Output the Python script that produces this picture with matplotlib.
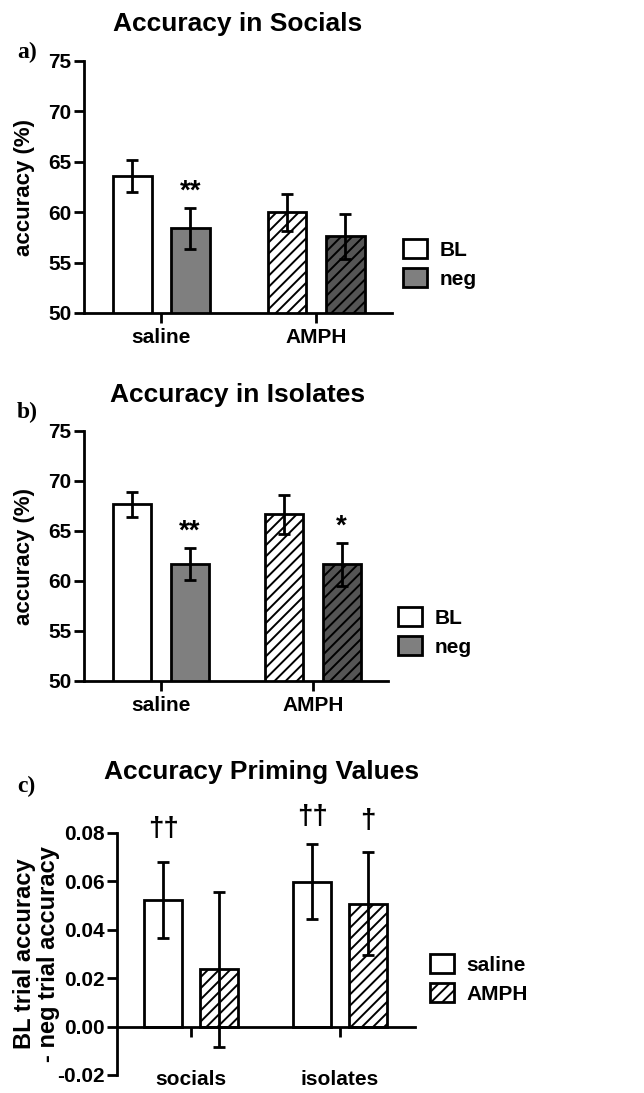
import matplotlib
matplotlib.use("Agg")
import matplotlib.pyplot as plt
from matplotlib.patches import Patch
from matplotlib import font_manager as fm

# ---------------- data ----------------
groups_ab = ["saline", "AMPH"]
soc_BL = [63.6, 60.0]
soc_BL_err = [1.6, 1.85]
soc_neg = [58.4, 57.6]
soc_neg_err = [2.05, 2.2]

iso_BL = [67.7, 66.7]
iso_BL_err = [1.25, 1.95]
iso_neg = [61.7, 61.7]
iso_neg_err = [1.6, 2.15]

groups_c = ["socials", "isolates"]
prime_saline = [0.0525, 0.0598]
prime_saline_err = [0.0157, 0.0155]
prime_amph = [0.0237, 0.0507]
prime_amph_err = [0.032, 0.0213]

yticks_ab = [50, 55, 60, 65, 70, 75]
yticks_c = [-0.02, 0.00, 0.02, 0.04, 0.06, 0.08]
ytick_labels_c = ["-0.02", "0.00", "0.02", "0.04", "0.06", "0.08"]

# ---------------- style ----------------
avail = {f.name for f in fm.fontManager.ttflist}
SANS = "Liberation Sans Narrow" if "Liberation Sans Narrow" in avail else "Liberation Sans"
SERIF = "Liberation Serif"
plt.rcParams["font.family"] = [SANS, "DejaVu Sans"]
plt.rcParams["hatch.linewidth"] = 1.4

W, H = 644, 1093
fig = plt.figure(figsize=(W / 100, H / 100), dpi=100)


def fr(x0, y0, x1, y1):
    return [x0 / W, 1 - y1 / H, (x1 - x0) / W, (y1 - y0) / H]


LW = 2.0
OFF = 0.188
BW = 0.25
TICKFS = 15
WHITE = "white"
GRAY = "#7f7f7f"
DGRAY = "#555555"
HATCH = "///"


def style_axes(ax):
    for s in ["top", "right"]:
        ax.spines[s].set_visible(False)
    for s in ["left", "bottom"]:
        ax.spines[s].set_linewidth(LW)
    ax.tick_params(axis="both", width=LW, length=7, labelsize=TICKFS, direction="out", pad=2)
    for lab in ax.get_yticklabels() + ax.get_xticklabels():
        lab.set_fontweight("bold")


def draw_ab(ax, bl, bl_err, neg, neg_err, xlim, lx):
    x = [0, 1]
    ax.bar([x[0] - OFF], [bl[0]], BW, color=WHITE, edgecolor="black", linewidth=LW, zorder=2)
    ax.bar([x[0] + OFF], [neg[0]], BW, color=GRAY, edgecolor="black", linewidth=LW, zorder=2)
    ax.bar([x[1] - OFF], [bl[1]], BW, color=WHITE, edgecolor="black", linewidth=LW, hatch=HATCH, zorder=2)
    ax.bar([x[1] + OFF], [neg[1]], BW, color=DGRAY, edgecolor="black", linewidth=LW, hatch=HATCH, zorder=2)
    ax.errorbar([x[0] - OFF, x[1] - OFF], bl, yerr=bl_err, fmt="none", ecolor="black",
                elinewidth=LW, capsize=4, capthick=LW, zorder=3)
    ax.errorbar([x[0] + OFF, x[1] + OFF], neg, yerr=neg_err, fmt="none", ecolor="black",
                elinewidth=LW, capsize=4, capthick=LW, zorder=3)
    ax.set_ylim(50, 75)
    ax.set_xlim(*xlim)
    ax.set_yticks(yticks_ab)
    ax.set_xticks(x)
    ax.set_xticklabels(groups_ab)
    ax.set_ylabel("accuracy (%)", fontsize=16, fontweight="bold")
    ax.yaxis.set_label_coords(lx, 0.5)
    style_axes(ax)
    ax.tick_params(axis="x", pad=4)


def legend(pos, labels, handles):
    fig.legend(handles, labels, loc="center left", bbox_to_anchor=pos, frameon=False,
               prop={"family": SANS, "weight": "bold", "size": 15},
               handlelength=1.15, handleheight=1.05, handletextpad=0.6, labelspacing=0.4,
               borderpad=0, borderaxespad=0)


# ---------------- panel a ----------------
axa = fig.add_axes(fr(84, 61, 392, 313))
draw_ab(axa, soc_BL, soc_BL_err, soc_neg, soc_neg_err, (-0.5, 1.49), -0.16)
axa.text(0 + OFF, 62.0, "**", ha="center", va="center", fontsize=20, fontweight="bold")
fig.text(238 / W, 1 - 24 / H, "Accuracy in Socials", fontsize=19, fontweight="bold",
         ha="center", va="center")
fig.text(17 / W, 1 - 52 / H, "a)", family=SERIF, fontweight="bold", fontsize=17, va="center")
legend((403 / W, 1 - 264 / H), ["BL", "neg"],
       [Patch(facecolor=WHITE, edgecolor="black", linewidth=LW),
        Patch(facecolor=GRAY, edgecolor="black", linewidth=LW)])

# ---------------- panel b ----------------
axb = fig.add_axes(fr(84, 431, 388, 681))
draw_ab(axb, iso_BL, iso_BL_err, iso_neg, iso_neg_err, (-0.507, 1.493), -0.162)
axb.text(0 + OFF, 64.9, "**", ha="center", va="center", fontsize=20, fontweight="bold")
axb.text(1 + OFF, 65.4, "*", ha="center", va="center", fontsize=20, fontweight="bold")
fig.text(238 / W, 1 - 395 / H, "Accuracy in Isolates", fontsize=19, fontweight="bold",
         ha="center", va="center")
fig.text(17 / W, 1 - 412 / H, "b)", family=SERIF, fontweight="bold", fontsize=17, va="center")
legend((398 / W, 1 - 632 / H), ["BL", "neg"],
       [Patch(facecolor=WHITE, edgecolor="black", linewidth=LW),
        Patch(facecolor=GRAY, edgecolor="black", linewidth=LW)])

# ---------------- panel c ----------------
axc = fig.add_axes(fr(117, 833, 415, 1075))
xc = [0, 1]
axc.bar([v - OFF for v in xc], prime_saline, BW, color=WHITE, edgecolor="black", linewidth=LW, zorder=2)
axc.bar([v + OFF for v in xc], prime_amph, BW, color=WHITE, edgecolor="black", linewidth=LW,
        hatch=HATCH, zorder=2)
axc.errorbar([v - OFF for v in xc], prime_saline, yerr=prime_saline_err, fmt="none", ecolor="black",
             elinewidth=LW, capsize=4, capthick=LW, zorder=3)
axc.errorbar([v + OFF for v in xc], prime_amph, yerr=prime_amph_err, fmt="none", ecolor="black",
             elinewidth=LW, capsize=4, capthick=LW, zorder=3)
axc.set_ylim(-0.02, 0.08)
axc.set_xlim(-0.497, 1.503)
axc.set_yticks(yticks_c)
axc.set_yticklabels(ytick_labels_c)
axc.set_xticks(xc)
axc.set_xticklabels(groups_c)
axc.spines["bottom"].set_position(("data", 0))
style_axes(axc)
axc.tick_params(axis="x", pad=24)
axc.set_ylabel("BL trial accuracy\n- neg trial accuracy", fontsize=17, fontweight="bold",
               linespacing=1.05)
axc.yaxis.set_label_coords(-0.19, 0.5)
axc.text(0 - OFF, 0.0818, "††", ha="center", va="center", fontsize=20, fontweight="bold", clip_on=False)
axc.text(1 - OFF, 0.0868, "††", ha="center", va="center", fontsize=20, fontweight="bold", clip_on=False)
axc.text(1 + OFF, 0.0848, "†", ha="center", va="center", fontsize=20, fontweight="bold", clip_on=False)
fig.text(262 / W, 1 - 772 / H, "Accuracy Priming Values", fontsize=19, fontweight="bold",
         ha="center", va="center")
fig.text(17 / W, 1 - 786 / H, "c)", family=SERIF, fontweight="bold", fontsize=17, va="center")
legend((430 / W, 1 - 979 / H), ["saline", "AMPH"],
       [Patch(facecolor=WHITE, edgecolor="black", linewidth=LW),
        Patch(facecolor=WHITE, edgecolor="black", linewidth=LW, hatch=HATCH)])

fig.savefig("out.png", dpi=100)
